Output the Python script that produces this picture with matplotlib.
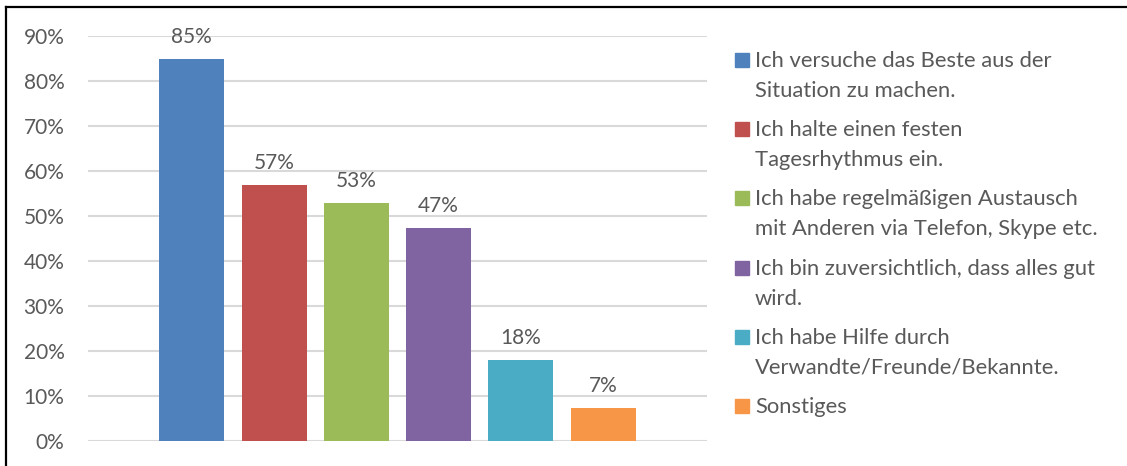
import matplotlib.pyplot as plt
from matplotlib.lines import Line2D
from matplotlib.patches import Rectangle

# survey answers (legend text), one bar each
categories = [
    "Ich versuche das Beste aus der\nSituation zu machen.",
    "Ich halte einen festen\nTagesrhythmus ein.",
    "Ich habe regelmäßigen Austausch\nmit Anderen via Telefon, Skype etc.",
    "Ich bin zuversichtlich, dass alles gut\nwird.",
    "Ich habe Hilfe durch\nVerwandte/Freunde/Bekannte.",
    "Sonstiges",
]
values = [85, 57, 53, 47.3, 18, 7.3]
value_labels = ["85%", "57%", "53%", "47%", "18%", "7%"]
colors = ["#4F81BD", "#C0504D", "#9BBB59", "#8064A2", "#4BACC6", "#F79646"]
yticks = [0, 10, 20, 30, 40, 50, 60, 70, 80, 90]

text_color = "#595959"
plt.rcParams['font.family'] = ['Lato', 'DejaVu Sans']

W, H = 1127, 466
fig = plt.figure(figsize=(W / 100, H / 100), dpi=100)
ax = fig.add_axes([88 / W, 1 - 441 / H, 619 / W, 405 / H])

x = list(range(len(values)))
ax.bar(x, values, width=0.79, color=colors, zorder=3)
ax.set_xlim(-1.26, len(values) - 1 + 1.26)
ax.set_ylim(0, 90)

# data labels above the bars
for xi, v, lab in zip(x, values, value_labels):
    ax.annotate(lab, (xi, v), xytext=(0, 11.5), textcoords="offset points",
                ha="center", va="baseline", fontsize=15, color=text_color,
                annotation_clip=False)

ax.set_yticks(yticks)
ax.set_yticklabels([f"{t}%" for t in yticks])
ax.set_xticks([])
ax.yaxis.grid(True, color="#D9D9D9", linewidth=1.5)
ax.set_axisbelow(True)
ax.tick_params(axis="y", length=0, pad=17, labelsize=15, labelcolor=text_color)
for s in ax.spines.values():
    s.set_visible(False)

# legend drawn by hand: square + wrapped lines
leg_top = 67        # baseline of first entry (px from top)
entry_step = 69.2
line_step = 30
for i, (cat, col) in enumerate(zip(categories, colors)):
    base = leg_top + i * entry_step
    fig.patches.append(Rectangle((735 / W, 1 - base / H), 14 / W, 14 / H,
                                 transform=fig.transFigure, color=col))
    for j, line in enumerate(cat.split("\n")):
        fig.text(755 / W, 1 - (base + j * line_step) / H, line, fontsize=15.8,
                 color=text_color, ha="left", va="baseline")

# outer frame (only left and top edges are visible)
fig.add_artist(Line2D([6 / W, 6 / W], [0, 1 - 6.5 / H], transform=fig.transFigure,
                      color="black", linewidth=1.6))
fig.add_artist(Line2D([6 / W, 1], [1 - 6.5 / H, 1 - 6.5 / H], transform=fig.transFigure,
                      color="black", linewidth=1.6))

fig.savefig("out.png", dpi=100)
